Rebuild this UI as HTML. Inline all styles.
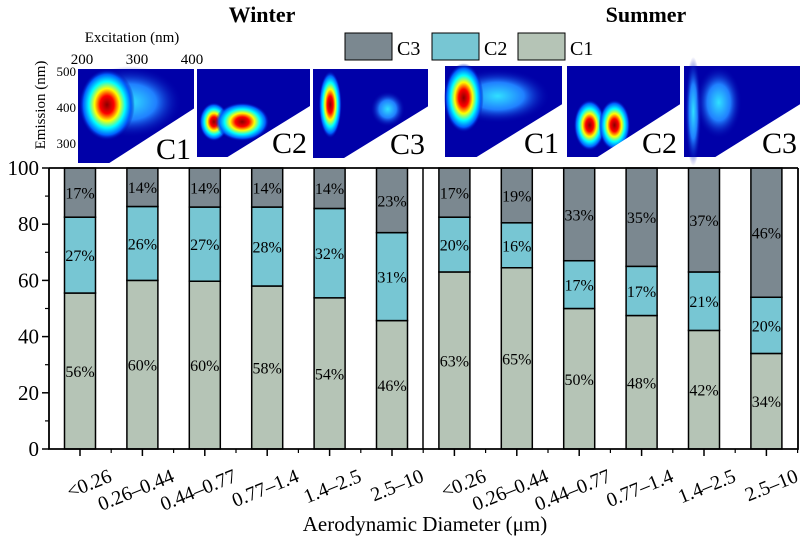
<!DOCTYPE html>
<html><head><meta charset="utf-8"><style>
body{margin:0;background:#fff;}
svg, svg text{font-family:"Liberation Serif","DejaVu Serif",serif;}
</style></head><body>
<svg id="chart" width="806" height="545" viewBox="0 0 806 545" xmlns="http://www.w3.org/2000/svg" font-family="Liberation Serif, serif">
<defs>
<radialGradient id="hot" cx="50%" cy="50%" r="50%">
<stop offset="0" stop-color="#8b0000"/><stop offset="0.25" stop-color="#ff0000"/><stop offset="0.45" stop-color="#ffff00"/><stop offset="0.65" stop-color="#00ffff"/><stop offset="0.85" stop-color="#0060ff"/><stop offset="1" stop-color="#0000a8" stop-opacity="0"/>
</radialGradient>
<radialGradient id="soft" cx="50%" cy="50%" r="50%">
<stop offset="0" stop-color="#30e0ff"/><stop offset="0.5" stop-color="#2080ff"/><stop offset="1" stop-color="#0000a8" stop-opacity="0"/>
</radialGradient>
</defs>
<g id="insets"></g>
<text x="262" y="22" font-size="22" font-weight="bold" text-anchor="middle">Winter</text>
<text x="646" y="22" font-size="22" font-weight="bold" text-anchor="middle">Summer</text>
<text x="132" y="42" font-size="15" text-anchor="middle">Excitation (nm)</text>
<text x="82" y="64" font-size="15" text-anchor="middle">200</text>
<text x="137" y="64" font-size="15" text-anchor="middle">300</text>
<text x="192" y="64" font-size="15" text-anchor="middle">400</text>
<text transform="translate(45,105) rotate(-90)" font-size="15" text-anchor="middle">Emission (nm)</text>
<text x="76" y="76" font-size="13" text-anchor="end">500</text>
<text x="76" y="112" font-size="13" text-anchor="end">400</text>
<text x="76" y="148" font-size="13" text-anchor="end">300</text>
<g>
<rect x="345" y="33" width="47" height="27" fill="#7b8890" stroke="#000"/>
<text x="397" y="55" font-size="20">C3</text>
<rect x="432" y="33" width="47" height="27" fill="#77c6d3" stroke="#000"/>
<text x="484" y="55" font-size="20">C2</text>
<rect x="518" y="33" width="47" height="27" fill="#b5c4b6" stroke="#000"/>
<text x="570" y="55" font-size="20">C1</text>
</g>
<g id="plot"></g>
<text x="425" y="531" font-size="21" text-anchor="middle">Aerodynamic Diameter (μm)</text>
</svg>
<script>
const categories = ["<0.26","0.26\u20130.44","0.44\u20130.77","0.77\u20131.4","1.4\u20132.5","2.5\u201310","<0.26","0.26\u20130.44","0.44\u20130.77","0.77\u20131.4","1.4\u20132.5","2.5\u201310"];
const c1Values = [55.5,60,59.7,58,53.8,45.7,63,64.5,50,47.5,42.2,34];
const c2Values = [27,26.3,26.4,28.1,31.8,31.3,19.5,16,17,17.5,20.8,20];
const c3Values = [17.5,13.7,13.9,13.9,14.4,23,17.5,19.5,33,35,37,46];
const c1Labels = ["56%","60%","60%","58%","54%","46%","63%","65%","50%","48%","42%","34%"];
const c2Labels = ["27%","26%","27%","28%","32%","31%","20%","16%","17%","17%","21%","20%"];
const c3Labels = ["17%","14%","14%","14%","14%","23%","17%","19%","33%","35%","37%","46%"];
const yTicks = [0,20,40,60,80,100];

const NS="http://www.w3.org/2000/svg";
const plot=document.getElementById('plot');
const X0=49,X1=798,Y0=449,Y1=168;
const y=v=>Y0-(v/100)*(Y0-Y1);
const step=62.4, x=i=>80+i*step, bw=31;
function mk(tag,attrs,parent){const e=document.createElementNS(NS,tag);for(const k in attrs)e.setAttribute(k,attrs[k]);(parent||plot).appendChild(e);return e;}
const colors=["#b5c4b6","#77c6d3","#7b8890"];
categories.forEach((c,i)=>{
  const segs=[c1Values[i],c2Values[i],c3Values[i]];
  const labs=[c1Labels[i],c2Labels[i],c3Labels[i]];
  let base=0;
  segs.forEach((v,k)=>{
    let top=k===2?100:base+v;
    const r=mk('rect',{x:x(i)-bw/2,y:y(top),width:bw,height:y(base)-y(top),fill:colors[k],stroke:'#000','stroke-width':1.5});
    
    
    const t=mk('text',{x:x(i),y:y((base+top)/2)+6,'font-size':16,'text-anchor':'middle'});
    t.textContent=labs[k];
    
    
    base=top;
  });
  const tk=mk('line',{x1:x(i),x2:x(i),y1:Y0,y2:Y0+7,stroke:'#000','stroke-width':1.5});
  
  
  const mt=mk('line',{x1:x(i)+step/2,x2:x(i)+step/2,y1:Y0,y2:Y0+4,stroke:'#000','stroke-width':1.2});
  
  
  const lt=mk('text',{transform:`translate(${x(i)+33},${Y0+32}) rotate(-22)`,'font-size':20,'text-anchor':'end'});
  lt.textContent=c;
  
  
});
const ax=mk('path',{d:`M${X0},${Y1}V${Y0}H${X1}V${Y1}`,fill:'none',stroke:'#000','stroke-width':1.8});


const tl=mk('line',{x1:X0,x2:X1,y1:Y1,y2:Y1,stroke:'#000','stroke-width':1.8});


const dv=mk('line',{x1:423,x2:423,y1:Y1,y2:Y0,stroke:'#000','stroke-width':1.5});


yTicks.forEach(v=>{
  const l=mk('line',{x1:X0-7,x2:X0,y1:y(v),y2:y(v),stroke:'#000','stroke-width':1.5});
  
  
  if(v<100){const m=mk('line',{x1:X0-4,x2:X0,y1:y(v+10),y2:y(v+10),stroke:'#000','stroke-width':1.2});
  
  }
  const t=mk('text',{x:X0-10,y:y(v)+7,'font-size':21,'text-anchor':'end'});
  t.textContent=v;
  
  
});
const ins=document.getElementById('insets');
const panels=[
 {x:78,y:69,w:116,h:94,n:'C1',spots:[[0.45,0.35,0.45,0.38,'soft'],[0.25,0.38,0.24,0.38,'hot']]},
 {x:197,y:69,w:113,h:88,n:'C2',spots:[[0.15,0.6,0.13,0.22,'hot'],[0.4,0.6,0.24,0.22,'hot']]},
 {x:313,y:69,w:115,h:89,n:'C3',spots:[[0.65,0.45,0.15,0.2,'soft'],[0.15,0.4,0.1,0.38,'hot']]},
 {x:445,y:66,w:117,h:91,n:'C1',spots:[[0.45,0.33,0.45,0.3,'soft'],[0.16,0.35,0.17,0.38,'hot']]},
 {x:567,y:66,w:113,h:91,n:'C2',spots:[[0.2,0.65,0.14,0.28,'hot'],[0.42,0.65,0.14,0.28,'hot']]},
 {x:684,y:66,w:116,h:91,n:'C3',spots:[[0.08,0.5,0.07,0.6,'soft'],[0.3,0.4,0.2,0.4,'soft']]}
];
panels.forEach((p,i)=>{
  const g=mk('g',{},ins);
  
  
  mk('rect',{x:p.x,y:p.y,width:p.w,height:p.h,fill:'#0000a8'},g);
  p.spots.forEach(s=>mk('ellipse',{cx:p.x+s[0]*p.w,cy:p.y+s[1]*p.h,rx:s[2]*p.w,ry:s[3]*p.h,fill:`url(#${s[4]})`},g));
  mk('polygon',{points:`${p.x+p.w*0.27},${p.y+p.h} ${p.x+p.w},${p.y+p.h*0.42} ${p.x+p.w},${p.y+p.h}`,fill:'#fff'},g);
  const t=mk('text',{x:p.x+p.w-3,y:p.y+p.h-4,'font-size':30,'text-anchor':'end'},g);
  t.textContent=p.n;
  
  
});
</script>
</body></html>
